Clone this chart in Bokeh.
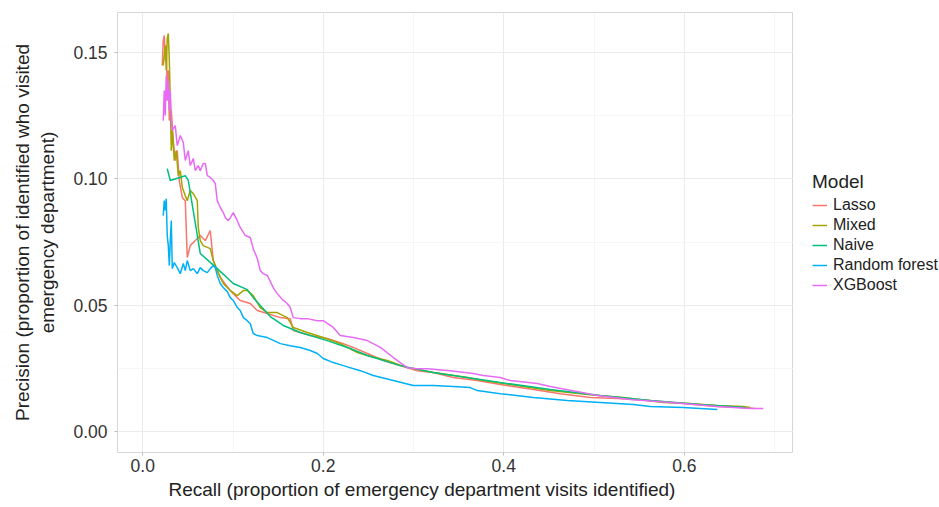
from bokeh.plotting import figure
from bokeh.layouts import row
from bokeh.models import Range1d, FixedTicker, NumeralTickFormatter, Legend, LegendItem, Title
from bokeh.embed import file_html
from bokeh.resources import INLINE

models = ["Lasso", "Mixed", "Naive", "Random forest", "XGBoost"]
colors = ["#F8766D", "#A3A500", "#00BF7D", "#00B0F6", "#E76BF3"]

x_ticks = [0.0, 0.2, 0.4, 0.6]
y_ticks = [0.0, 0.05, 0.10, 0.15]

lasso_recall = [0.0216, 0.0227, 0.0238, 0.0249, 0.0260, 0.0271, 0.0283, 0.0294, 0.0316, 0.0338,
                0.0360, 0.0382, 0.0404, 0.0438, 0.0471, 0.0493, 0.0526, 0.0582, 0.0637, 0.0693,
                0.0748, 0.0781, 0.0859, 0.0970, 0.1080, 0.1191, 0.1269, 0.1380, 0.1524, 0.1634,
                0.1668, 0.1856, 0.2044, 0.2222, 0.2332, 0.2488, 0.2665, 0.2853, 0.3041, 0.3219,
                0.3440, 0.3706, 0.3961, 0.4327, 0.4626, 0.4958, 0.5258, 0.5623, 0.5989, 0.6366,
                0.6620, 0.6787]
lasso_precision = [0.1449, 0.1548, 0.1568, 0.1469, 0.1528, 0.1350, 0.1429, 0.1231, 0.1271, 0.1152,
                   0.1073, 0.1112, 0.0994, 0.0926, 0.0914, 0.0689, 0.0736, 0.0756, 0.0776, 0.0756,
                   0.0796, 0.0677, 0.0610, 0.0558, 0.0519, 0.0507, 0.0479, 0.0467, 0.0451, 0.0447,
                   0.0400, 0.0380, 0.0368, 0.0348, 0.0333, 0.0309, 0.0281, 0.0261, 0.0241, 0.0234,
                   0.0214, 0.0202, 0.0186, 0.0166, 0.0150, 0.0135, 0.0131, 0.0123, 0.0111, 0.0099,
                   0.0095, 0.0091]

mixed_recall = [0.0227, 0.0249, 0.0260, 0.0271, 0.0283, 0.0294, 0.0305, 0.0316, 0.0327, 0.0349,
                0.0371, 0.0393, 0.0416, 0.0438, 0.0471, 0.0493, 0.0526, 0.0560, 0.0604, 0.0615,
                0.0637, 0.0670, 0.0748, 0.0781, 0.0825, 0.0892, 0.0970, 0.1047, 0.1114, 0.1158,
                0.1224, 0.1302, 0.1380, 0.1490, 0.1601, 0.1668, 0.1823, 0.2000, 0.2188, 0.2377,
                0.2488, 0.2709, 0.2931, 0.3219, 0.3596, 0.3773, 0.4072, 0.4515, 0.4958, 0.5324,
                0.5767, 0.6066, 0.6366, 0.6654, 0.6731]
mixed_precision = [0.1449, 0.1528, 0.1429, 0.1556, 0.1576, 0.1469, 0.1310, 0.1112, 0.1192, 0.1073,
                   0.1112, 0.1013, 0.1033, 0.0966, 0.0934, 0.0914, 0.0954, 0.0942, 0.0914, 0.0808,
                   0.0756, 0.0736, 0.0724, 0.0677, 0.0637, 0.0586, 0.0558, 0.0538, 0.0558, 0.0558,
                   0.0538, 0.0491, 0.0471, 0.0471, 0.0451, 0.0412, 0.0392, 0.0372, 0.0348, 0.0313,
                   0.0301, 0.0281, 0.0253, 0.0234, 0.0214, 0.0202, 0.0186, 0.0162, 0.0146, 0.0135,
                   0.0115, 0.0111, 0.0103, 0.0099, 0.0095]

naive_recall = [0.0271, 0.0305, 0.0471, 0.0504, 0.0637, 0.0825, 0.1003, 0.1158, 0.1224, 0.1302,
                0.1413, 0.1557, 0.1745, 0.2044, 0.2299, 0.2488, 0.2853, 0.3219, 0.3961, 0.4515,
                0.5069, 0.5623, 0.6177, 0.6676]
naive_precision = [0.1041, 0.0994, 0.1013, 0.0994, 0.0705, 0.0645, 0.0586, 0.0562, 0.0530, 0.0499,
                   0.0455, 0.0420, 0.0392, 0.0360, 0.0329, 0.0301, 0.0261, 0.0234, 0.0194, 0.0166,
                   0.0143, 0.0123, 0.0107, 0.0095]

rf_recall = [0.0227, 0.0238, 0.0249, 0.0260, 0.0271, 0.0283, 0.0294, 0.0305, 0.0316, 0.0327,
             0.0349, 0.0382, 0.0416, 0.0449, 0.0471, 0.0493, 0.0526, 0.0560, 0.0604, 0.0637,
             0.0670, 0.0715, 0.0748, 0.0781, 0.0803, 0.0825, 0.0859, 0.0892, 0.0936, 0.0970,
             0.1003, 0.1047, 0.1080, 0.1114, 0.1158, 0.1191, 0.1224, 0.1269, 0.1380, 0.1524,
             0.1634, 0.1745, 0.1856, 0.1934, 0.2000, 0.2111, 0.2222, 0.2410, 0.2554, 0.2776,
             0.2997, 0.3219, 0.3440, 0.3629, 0.3706, 0.3961, 0.4327, 0.4704, 0.5069, 0.5435,
             0.5623, 0.5989, 0.6366]
rf_precision = [0.0855, 0.0914, 0.0875, 0.0922, 0.0776, 0.0736, 0.0657, 0.0756, 0.0835, 0.0645,
                0.0669, 0.0649, 0.0625, 0.0665, 0.0637, 0.0677, 0.0637, 0.0645, 0.0625, 0.0649,
                0.0637, 0.0629, 0.0645, 0.0657, 0.0649, 0.0618, 0.0586, 0.0570, 0.0554, 0.0530,
                0.0519, 0.0491, 0.0479, 0.0451, 0.0439, 0.0427, 0.0388, 0.0380, 0.0372, 0.0348,
                0.0340, 0.0333, 0.0321, 0.0309, 0.0289, 0.0273, 0.0261, 0.0241, 0.0222, 0.0202,
                0.0182, 0.0182, 0.0178, 0.0174, 0.0162, 0.0150, 0.0135, 0.0123, 0.0115, 0.0107,
                0.0099, 0.0095, 0.0087]

xgb_recall = [0.0227, 0.0238, 0.0249, 0.0260, 0.0271, 0.0283, 0.0294, 0.0305, 0.0316, 0.0327,
              0.0360, 0.0382, 0.0416, 0.0449, 0.0471, 0.0504, 0.0526, 0.0560, 0.0582, 0.0615,
              0.0637, 0.0670, 0.0693, 0.0715, 0.0748, 0.0781, 0.0803, 0.0825, 0.0859, 0.0892,
              0.0914, 0.0947, 0.0970, 0.1003, 0.1047, 0.1080, 0.1136, 0.1191, 0.1224, 0.1269,
              0.1302, 0.1335, 0.1380, 0.1446, 0.1490, 0.1557, 0.1601, 0.1634, 0.1668, 0.1745,
              0.1823, 0.1934, 0.2000, 0.2111, 0.2188, 0.2332, 0.2488, 0.2632, 0.2776, 0.2853,
              0.2931, 0.3041, 0.3152, 0.3407, 0.3662, 0.3773, 0.3961, 0.4072, 0.4371, 0.4515,
              0.4881, 0.5036, 0.5402, 0.5989, 0.6366, 0.6731, 0.6875]
xgb_precision = [0.1231, 0.1350, 0.1251, 0.1409, 0.1310, 0.1390, 0.1271, 0.1350, 0.1231, 0.1192,
                 0.1211, 0.1132, 0.1172, 0.1144, 0.1073, 0.1112, 0.1053, 0.1081, 0.1033, 0.1053,
                 0.1033, 0.1061, 0.1061, 0.1013, 0.1006, 0.0994, 0.0982, 0.0914, 0.0887, 0.0867,
                 0.0847, 0.0835, 0.0847, 0.0867, 0.0835, 0.0808, 0.0776, 0.0768, 0.0724, 0.0685,
                 0.0637, 0.0625, 0.0618, 0.0570, 0.0546, 0.0519, 0.0507, 0.0491, 0.0451, 0.0447,
                 0.0447, 0.0439, 0.0439, 0.0412, 0.0380, 0.0372, 0.0360, 0.0333, 0.0293, 0.0273,
                 0.0253, 0.0249, 0.0249, 0.0241, 0.0230, 0.0222, 0.0214, 0.0202, 0.0190, 0.0178,
                 0.0154, 0.0143, 0.0127, 0.0111, 0.0099, 0.0091, 0.0091]

series = [
    (lasso_recall, lasso_precision),
    (mixed_recall, mixed_precision),
    (naive_recall, naive_precision),
    (rf_recall, rf_precision),
    (xgb_recall, xgb_precision),
]

x_title = "Recall (proportion of emergency department visits identified)"
y_title = "Precision (proportion of identified who visited\nemergency department)"

FONT = "Liberation Sans"

p = figure(width=793, height=507, output_backend="svg", toolbar_location=None,
           x_range=Range1d(-0.028, 0.721), y_range=Range1d(-0.0083, 0.1659),
           min_border_left=117, min_border_right=0, min_border_top=12, min_border_bottom=55)

p.background_fill_color = "white"
p.border_fill_color = "white"
p.outline_line_color = "#D6D6D6"
p.outline_line_width = 1

p.xaxis.ticker = FixedTicker(ticks=x_ticks, minor_ticks=[0.1, 0.3, 0.5, 0.7])
p.yaxis.ticker = FixedTicker(ticks=y_ticks, minor_ticks=[0.025, 0.075, 0.125])
p.xaxis.formatter = NumeralTickFormatter(format="0.0")
p.yaxis.formatter = NumeralTickFormatter(format="0.00")

for ax in (p.xaxis, p.yaxis):
    ax.axis_line_color = None
    ax.major_tick_line_color = "#BDBDBD"
    ax.major_tick_in = 0
    ax.major_tick_out = 3
    ax.minor_tick_line_color = None
    ax.major_label_text_font = FONT
    ax.major_label_text_font_size = "17.5px"
    ax.major_label_text_color = "#333333"
    ax.axis_label_text_font = FONT
    ax.axis_label_text_font_size = "19px"
    ax.axis_label_text_font_style = "normal"
    ax.axis_label_text_color = "#222222"

p.xaxis.major_label_standoff = 2
p.yaxis.major_label_standoff = 6
p.yaxis.axis_label = y_title
p.yaxis.axis_label_standoff = 12

p.add_layout(Title(text=x_title, align="left", offset=51, standoff=5,
                   text_font=FONT, text_font_size="19px", text_font_style="normal",
                   text_color="#222222"), "below")

for g in (p.xgrid, p.ygrid):
    g.grid_line_color = "#EBEBEB"
    g.grid_line_width = 1
    g.minor_grid_line_color = "#F4F4F4"
    g.minor_grid_line_width = 0.8

for name, color, (xs, ys) in zip(models, colors, series):
    p.line(xs, ys, line_color=color, line_width=1.5)

# Legend panel to the right of the plot (its lines lie outside its view)
lf = figure(width=146, height=507, output_backend="svg", toolbar_location=None,
            x_range=Range1d(10, 11), y_range=Range1d(10, 11),
            min_border_left=0, min_border_right=0, min_border_top=0, min_border_bottom=0)
lf.axis.visible = False
lf.grid.visible = False
lf.outline_line_color = None
lf.background_fill_color = "white"
lf.border_fill_color = "white"

items = []
for name, color, (xs, ys) in zip(models, colors, series):
    r = lf.line(xs, ys, line_color=color, line_width=1.5)
    items.append(LegendItem(label=name, renderers=[r]))

legend = Legend(items=items, location=(19, 157), title="Model",
                title_text_font=FONT, title_text_font_size="19px", title_text_font_style="normal",
                title_text_color="#222222", title_standoff=2,
                label_text_font=FONT, label_text_font_size="16px", label_text_color="#222222",
                glyph_width=15, glyph_height=20, label_height=20, label_standoff=6,
                spacing=0, padding=0, margin=0,
                border_line_color=None, background_fill_alpha=0)
lf.add_layout(legend, "center")

layout = row(p, lf)
open("out.html", "w").write(file_html(layout, INLINE))
